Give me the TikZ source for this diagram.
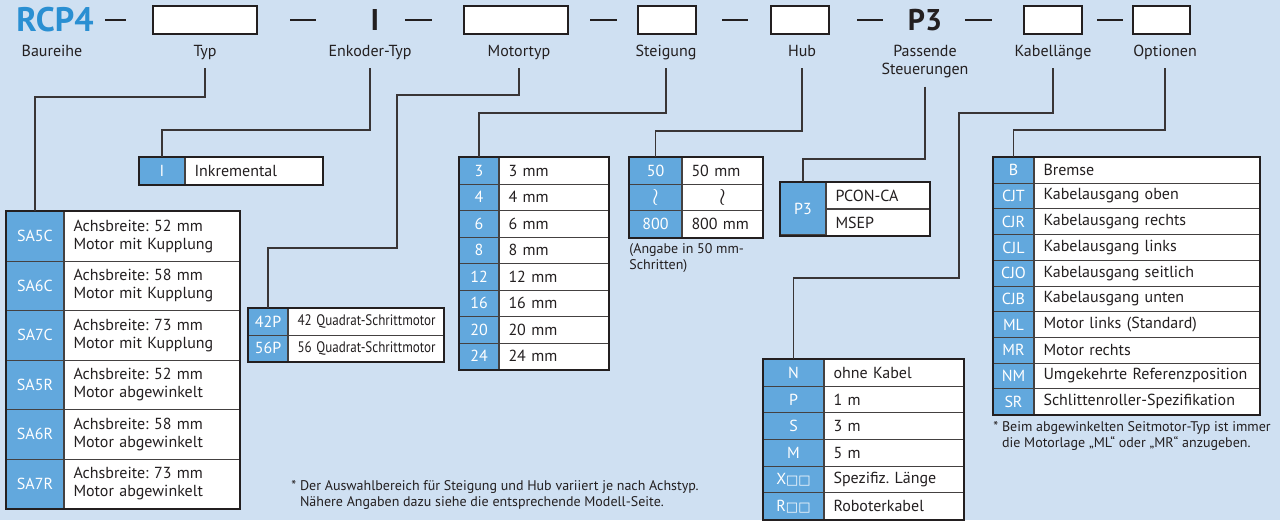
\documentclass[tikz,border=0pt]{standalone}
\usepackage{fontspec}
\setmainfont{PT Sans}
\newfontfamily\symfont{DejaVu Sans}
\usepackage{graphicx}
\usepackage{tikz}
\usetikzlibrary{positioning,calc}
\definecolor{paper}{HTML}{CFE0F2}
\definecolor{cellblue}{HTML}{62A8DD}
\definecolor{brand}{HTML}{2A8FD2}
\definecolor{ink}{HTML}{231F20}
\frenchspacing
\newcommand{\blanks}{{\fontsize{6.5}{7}\symfont\char"25A1\char"25A1}}
\newcommand{\narrowtxt}[1]{\scalebox{0.86}[1]{\fontsize{7.6}{8}\selectfont #1}}
\newcommand{\wave}{{\large$\wr$}}

\begin{document}
\begin{tikzpicture}[x=0.5pt,y=-0.5pt,font=\fontsize{8}{9}\selectfont,
  keycell/.style={draw=ink!85,line width=0.5pt,fill=cellblue,text=white,anchor=north west,inner sep=0pt},
  valcell/.style={draw=ink!85,line width=0.5pt,fill=white,text=ink,anchor=north west,inner xsep=4.5pt,inner ysep=0pt,align=left},
  frame/.style={draw=ink,line width=1pt},
  slot/.style={draw=ink,line width=0.8pt,fill=white,inner sep=0pt,minimum height=14pt},
  codetxt/.style={text=ink,font=\fontsize{15}{16}\bfseries,inner sep=0pt},
  part/.style={text=ink,anchor=base,inner sep=0pt,text depth=0pt},
  link/.style={draw=ink!90,line width=0.65pt,shorten <=6pt},
  sepline/.style={draw=ink,line width=0.9pt},
  note/.style={text=ink,anchor=north west,inner sep=0pt,align=left,font=\fontsize{7}{8}\selectfont}]
  \fill[paper] (0,0) rectangle (1280,520);
  \useasboundingbox (0,0) rectangle (1280,520);

  % model code
  \node[text=brand,font=\fontsize{17}{18}\bfseries,inner sep=0pt] (rcp) at (55,20) {RCP4};
  \node[slot,minimum width=52pt] (sTyp) at (205,20) {};
  \node[codetxt] (sEnc) at (375,20) {I};
  \node[slot,minimum width=52pt] (sMotor) at (516,20) {};
  \node[slot,minimum width=29pt] (sPitch) at (667,20) {};
  \node[slot,minimum width=29pt] (sStroke) at (800,20) {};
  \node[codetxt] (sCtrl) at (925,20) {P3};
  \node[slot,minimum width=29pt] (sCable) at (1053,20) {};
  \node[slot,minimum width=28.5pt] (sOpt) at (1161.5,20) {};
  \foreach \a/\b in {105/126,290/316,405/432,590/617,722/748,857/883,965/992,1097/1123}
     {\draw[sepline] (\a,20)--(\b,20);}

  \node[part] (lSeries) at (52,56) {Baureihe};
  \node[part] (lTyp) at (205,56) {Typ};
  \node[part] (lEnc) at (370,56) {Enkoder-Typ};
  \node[part] (lMotor) at (519,56) {Motortyp};
  \node[part] (lPitch) at (666,56) {Steigung};
  \node[part] (lStroke) at (802,56) {Hub};
  \node[text=ink,inner sep=0pt,align=center,anchor=north] (lCtrl) at (925,45) {Passende\\Steuerungen};
  \node[part] (lCable) at (1053,56) {Kabellänge};
  \node[part] (lOpt) at (1165,56) {Optionen};

  % Typ
  \foreach \code/\desc [count=\i] in {SA5C/Achsbreite: 52 mm\\Motor mit Kupplung,
      SA6C/Achsbreite: 58 mm\\Motor mit Kupplung,SA7C/Achsbreite: 73 mm\\Motor mit Kupplung,
      SA5R/Achsbreite: 52 mm\\Motor abgewinkelt,SA6R/Achsbreite: 58 mm\\Motor abgewinkelt,
      SA7R/Achsbreite: 73 mm\\Motor abgewinkelt}
     {\node[keycell,minimum width=28.5pt,minimum height=24.75pt] (saK\i) at (6,{211+49.5*(\i-1)}) {\code};
      \node[valcell,text width=78.5pt,minimum height=24.75pt] (saV\i) at (saK\i.north east) {\desc};}
  \draw[frame] (saK1.north west) rectangle (saV6.south east);

  % Enkoder
  \node[keycell,minimum width=22.5pt,minimum height=13.5pt] (inK) at (139,157) {I};
  \node[valcell,text width=59.5pt,minimum height=13.5pt] (inV) at (inK.north east) {Inkremental};
  \draw[frame] (inK.north west) rectangle (inV.south east);

  % Motortyp
  \foreach \code/\desc [count=\i] in {42P/42 Quadrat-Schrittmotor,56P/56 Quadrat-Schrittmotor}
     {\node[keycell,minimum width=19.5pt,minimum height=13.25pt] (mtK\i) at (248,{308+26.5*(\i-1)}) {\code};
      \node[valcell,text width=68.5pt,minimum height=13.25pt] (mtV\i) at (mtK\i.north east) {\narrowtxt{\desc}};}
  \draw[frame] (mtK1.north west) rectangle (mtV2.south east);

  % Steigung
  \foreach \code/\desc [count=\i] in {3/3 mm,4/4 mm,6/6 mm,8/8 mm,12/12 mm,16/16 mm,20/20 mm,24/24 mm}
     {\node[keycell,minimum width=19.5pt,minimum height=13.25pt] (stK\i) at (459,{157+26.5*(\i-1)}) {\code};
      \node[valcell,text width=45.5pt,minimum height=13.25pt] (stV\i) at (stK\i.north east) {\desc};}
  \draw[frame] (stK1.north west) rectangle (stV8.south east);

  % Hub
  \foreach \code/\desc [count=\i] in {50/50 mm,\wave/\makebox[31pt][c]{\wave},800/800 mm}
     {\node[keycell,minimum width=26pt,minimum height=13.33pt] (hbK\i) at (629,{157+26.67*(\i-1)}) {\code};
      \node[valcell,text width=31pt,minimum height=13.33pt] (hbV\i) at (hbK\i.north east) {\desc};}
  \draw[frame] (hbK1.north west) rectangle (hbV3.south east);
  \node[note] (hbNote) at (629,243) {(Angabe in 50 mm-\\Schritten)};

  % Steuerungen
  \node[keycell,minimum width=22.5pt,minimum height=26pt] (pcK) at (780,182) {P3};
  \node[valcell,text width=42.5pt,minimum height=13pt] (pcV1) at (pcK.north east) {PCON-CA};
  \node[valcell,text width=42.5pt,minimum height=13pt] (pcV2) at (pcV1.south west) {MSEP};
  \draw[frame] (pcK.north west) rectangle (pcV2.south east);

  % Kabellaenge
  \foreach \code/\desc [count=\i] in {N/ohne Kabel,P/1 m,S/3 m,M/5 m,X\blanks/Spezifiz. Länge,R\blanks/Roboterkabel}
     {\node[keycell,minimum width=30pt,minimum height=13.33pt] (kbK\i) at (763,{359+26.67*(\i-1)}) {\code};
      \node[valcell,text width=60.5pt,minimum height=13.33pt] (kbV\i) at (kbK\i.north east) {\desc};}
  \draw[frame] (kbK1.north west) rectangle (kbV6.south east);

  % Optionen
  \foreach \code/\desc [count=\i] in {B/Bremse,CJT/Kabelausgang oben,CJR/Kabelausgang rechts,
      CJL/Kabelausgang links,CJO/Kabelausgang seitlich,CJB/Kabelausgang unten,ML/Motor links (Standard),
      MR/Motor rechts,NM/Umgekehrte Referenzposition,SR/Schlittenroller-Spezifikation}
     {\node[keycell,minimum width=20pt,minimum height=12.85pt] (opK\i) at (993,{157+25.7*(\i-1)}) {\code};
      \node[valcell,text width=103.5pt,minimum height=12.85pt] (opV\i) at (opK\i.north east) {\desc};}
  \draw[frame] (opK1.north west) rectangle (opV10.south east);
  \node[note] (opNote) at (993,421) {* Beim abgewinkelten Seitmotor-Typ ist immer\\
    \phantom{* }die Motorlage „ML“ oder „MR“ anzugeben.};

  \node[note] (rangeNote) at (291,480) {* Der Auswahlbereich für Steigung und Hub variiert je nach Achstyp.\\
    \phantom{* }Nähere Angaben dazu siehe die entsprechende Modell-Seite.};

  % connectors
  \draw[link] (lTyp.south) -- (lTyp.south |- 0,97) -| (saK1.north);
  \draw[link] (lEnc.south) -- (lEnc.south |- 0,130) -| (inK.north);
  \draw[link] (lMotor.south) -- (lMotor.south |- 0,95) -- (397,95) -- (397,248) -| (mtK1.north);
  \draw[link] (lPitch.south) -- (lPitch.south |- 0,113) -| (stK1.north);
  \draw[link] (lStroke.south) -- (lStroke.south |- 0,131) -| (hbK1.north);
  \draw[link,shorten <=4pt] (lCtrl.south) -- (lCtrl.south |- 0,159) -| (pcK.north);
  \draw[link] (lCable.south) -- (lCable.south |- 0,113) -- (959,113) -- (959,278) -| (kbK1.north);
  \draw[link] (lOpt.south) -- (lOpt.south |- 0,130) -| (opK1.north);
\end{tikzpicture}
\end{document}
